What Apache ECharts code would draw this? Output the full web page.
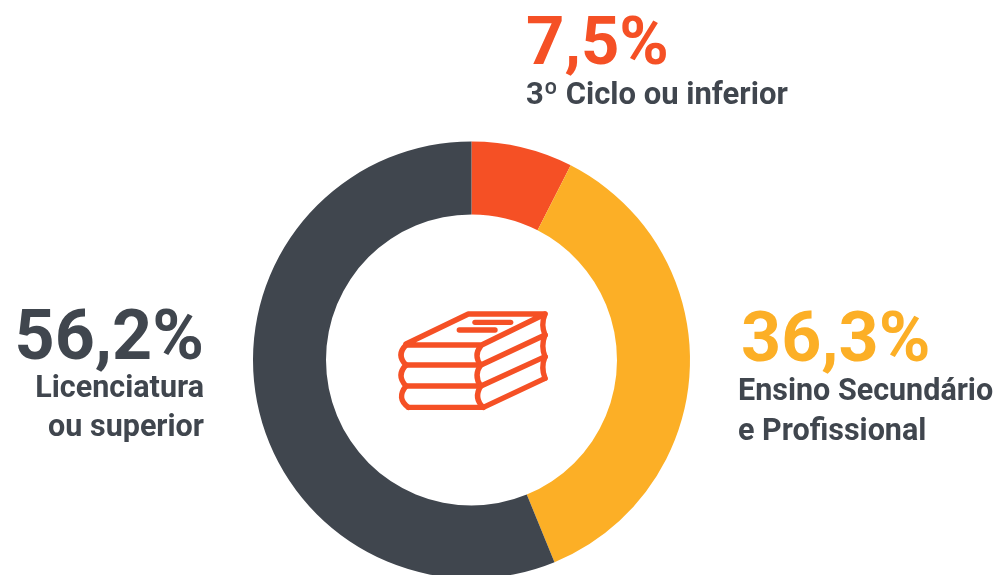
<!DOCTYPE html>
<html><head><meta charset="utf-8">
<style>html,body{margin:0;padding:0;background:#fff}#c{width:1001px;height:575px}</style>
<script src="https://cdn.jsdelivr.net/npm/echarts@6/dist/echarts.min.js"></script>
</head><body><div id="c"></div>
<script>
const categories = ['3º Ciclo ou inferior', 'Ensino Secundário e Profissional', 'Licenciatura ou superior'];
const values = [7.5, 36.3, 56.2];
const valueLabels = ['7,5%', '36,3%', '56,2%'];
const nameLines = [['3º Ciclo ou inferior'], ['Ensino Secundário', 'e Profissional'], ['Licenciatura', 'ou superior']];
const colors = ['#F55025', '#FCAF26', '#40464E'];
const inkColor = '#40464E';
const font = 'Roboto';

// label placement: anchor x, alignment, vertical centres of value and name lines
const labelPlacement = [
  {x: 526, nameX: 526, align: 'left', valueSize: 67, nameSize: 31, valueY: 47, nameY: [96]},
  {x: 741, nameX: 738, align: 'left', valueSize: 70, nameSize: 30.5, valueY: 343, nameY: [392, 432]},
  {x: 204, nameX: 204, align: 'right', valueSize: 70, nameSize: 30.5, valueY: 341, nameY: [389, 428]}
];

const graphics = [];
labelPlacement.forEach((p, i) => {
  graphics.push({type: 'text', x: p.x, y: p.valueY, silent: true, style: {
    text: valueLabels[i], fill: colors[i], align: p.align, verticalAlign: 'middle',
    font: `bold ${p.valueSize}px ${font}`}});
  nameLines[i].forEach((t, k) => graphics.push({type: 'text', x: p.nameX, y: p.nameY[k], silent: true, style: {
    text: t, fill: inkColor, align: p.align, verticalAlign: 'middle',
    font: `bold ${p.nameSize}px ${font}`}}));
});

// book icon, traced in a 3x grid anchored at (380,290)
const ix = v => 380 + v / 3, iy = v => 290 + v / 3;
const iconStyle = {stroke: colors[0], lineWidth: 5.4, lineCap: 'round', lineJoin: 'round', fill: null};
const poly = pts => graphics.push({type: 'polyline', silent: true, style: iconStyle,
  shape: {points: pts.map(p => [ix(p[0]), iy(p[1])])}});
const curve = (a, c, b) => graphics.push({type: 'bezierCurve', silent: true, style: iconStyle,
  shape: {x1: ix(a[0]), y1: iy(a[1]), cpx1: ix(c[0]), cpy1: iy(c[1]), x2: ix(b[0]), y2: iy(b[1])}});
poly([[78,162],[265,72],[495,72],[305,165],[78,165]]);
poly([[285,97],[392,97]]);
poly([[238,120],[345,120]]);
poly([[78,225],[295,225]]);
poly([[78,288],[295,288]]);
poly([[85,352],[310,352],[495,265]]);
poly([[303,225],[495,135]]);
poly([[303,288],[495,200]]);
curve([78,165],[48,195],[78,225]);
curve([78,225],[48,256],[78,288]);
curve([78,288],[48,325],[85,352]);
curve([302,168],[280,197],[302,225]);
curve([302,225],[280,256],[302,288]);
curve([302,288],[280,325],[310,352]);
curve([495,72],[482,104],[495,135]);
curve([495,135],[482,168],[495,200]);
curve([495,200],[482,232],[495,265]);

const chart = echarts.init(document.getElementById('c'), null, {renderer: 'canvas'});
chart.setOption({
  animation: false,
  backgroundColor: '#fff',
  series: [{
    type: 'pie', center: [471.5, 360], radius: [145.5, 218.5], startAngle: 90, clockwise: true,
    silent: true, label: {show: false}, labelLine: {show: false},
    data: categories.map((n, i) => ({name: n, value: values[i], itemStyle: {color: colors[i]}}))
  }],
  graphic: graphics
});
</script></body></html>
